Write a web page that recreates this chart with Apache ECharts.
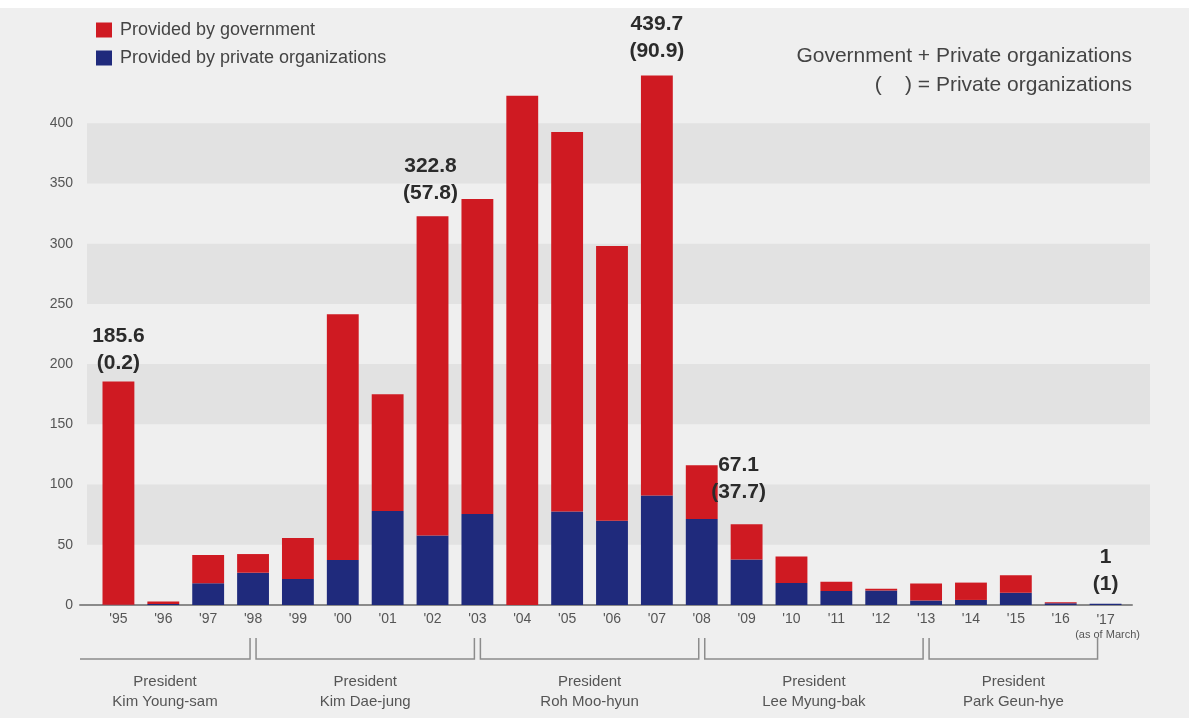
<!DOCTYPE html>
<html><head><meta charset="utf-8">
<script src="https://cdn.jsdelivr.net/npm/echarts@6/dist/echarts.min.js"></script>
<style>html,body{margin:0;padding:0;background:#fff}#c{width:1189px;height:718px;}</style>
</head><body><div id="c"></div>
<script>
// ---- data ----
const years = ["'95","'96","'97","'98","'99","'00","'01","'02","'03","'04","'05","'06","'07","'08","'09","'10","'11","'12","'13","'14","'15","'16","'17"];
const government = [185.4, 2.2, 23.5, 15.5, 34.0, 204.2, 97.0, 265.0, 261.5, 422.8, 315.2, 228.0, 348.8, 44.5, 29.4, 22.0, 7.6, 1.4, 14.1, 14.4, 14.6, 0.8, 0];
const privateOrg = [0.2, 0.8, 18.0, 26.8, 21.6, 37.3, 78.0, 57.8, 75.5, 0, 77.6, 70.0, 90.9, 71.5, 37.7, 18.3, 11.6, 12.1, 3.7, 4.2, 10.2, 1.5, 1];
const calloutIndex = [0, 7, 12, 14, 22];
const calloutTotal = ['185.6', '322.8', '439.7', '67.1', '1'];
const calloutPrivate = ['(0.2)', '(57.8)', '(90.9)', '(37.7)', '(1)'];
const presidentTitles = ['President', 'President', 'President', 'President', 'President'];
const presidentNames = ['Kim Young-sam', 'Kim Dae-jung', 'Roh Moo-hyun', 'Lee Myung-bak', 'Park Geun-hye'];
const termStart = [0, 3, 8, 13, 18];
const termEnd = [3, 8, 13, 18, 22];
const yTicks = [0, 50, 100, 150, 200, 250, 300, 350, 400];

// ---- styles ----
const RED = '#cf1a22', NAVY = '#1f2a7c';
const FONT = 'Liberation Sans, Arial, sans-serif';
const calloutCfg = {
  0: {distance: 5, offset: [0, 0]},
  7: {distance: 10, offset: [-2, 0]},
  12: {distance: 11, offset: [0, 0]},
  14: {distance: 18, offset: [-8, 0]},
  22: {distance: 6, offset: [0, 0]}
};

const govData = government.map((v, i) => {
  const k = calloutIndex.indexOf(i);
  if (k < 0) return v;
  const c = calloutCfg[i];
  return {
    value: v,
    label: {
      show: true, position: 'top', distance: c.distance, offset: c.offset,
      formatter: '{a|' + calloutTotal[k] + '}\n{a|' + calloutPrivate[k] + '}',
      rich: {a: {fontFamily: FONT, fontWeight: 'bold', fontSize: 21, lineHeight: 27, color: '#2b2b2b', align: 'center'}}
    }
  };
});

const terms = termStart.map((s, i) => [s, termEnd[i], 0]);

const chart = echarts.init(document.getElementById('c'), null, {renderer: 'canvas'});
chart.setOption({
  backgroundColor: {type: 'linear', x: 0, y: 0, x2: 0, y2: 1, colorStops: [
    {offset: 0, color: '#ffffff'}, {offset: 0.011, color: '#ffffff'},
    {offset: 0.011, color: '#efefef'}, {offset: 1, color: '#efefef'}]},
  animation: false,
  textStyle: {fontFamily: FONT},
  legend: {
    data: ['Provided by government', 'Provided by private organizations'],
    orient: 'vertical', left: 91, top: 16, itemWidth: 16, itemHeight: 15, itemGap: 10,
    icon: 'rect',
    textStyle: {fontSize: 18, color: '#444', fontFamily: FONT, padding: [0, 0, 0, 3]}
  },
  graphic: [
    {type: 'text', right: 57, top: 46, style: {text: 'Government + Private organizations', font: '21px ' + FONT, fill: '#444'}},
    {type: 'text', right: 57, top: 75, style: {text: '(    ) = Private organizations', font: '21px ' + FONT, fill: '#444'}}
  ],
  grid: [
    {left: 96, right: 61, top: 63, bottom: 113},
    {left: 87, right: 39, top: 63, bottom: 113},
    {left: 80, right: 57, top: 63, bottom: 113}
  ],
  xAxis: [
    {type: 'category', gridIndex: 0, data: years, axisLine: {show: false}, axisTick: {show: false},
      axisLabel: {interval: 0, margin: 7, color: '#555', fontSize: 14, fontFamily: FONT,
        formatter: (v, i) => i === years.length - 1 ? '{y|' + v + '}\n{n|(as of March)}' : v,
        rich: {y: {fontSize: 14, color: '#555', lineHeight: 16, fontFamily: FONT},
               n: {fontSize: 11, color: '#555', lineHeight: 14, fontFamily: FONT, padding: [0, 0, 0, 4]}}}},
    {type: 'value', gridIndex: 1, min: 0, max: 1, show: false},
    {type: 'value', gridIndex: 2, min: 0, max: 1, axisLine: {show: true, onZero: false, lineStyle: {color: '#8a8a8a', width: 2}},
      axisTick: {show: false}, axisLabel: {show: false}, splitLine: {show: false}}
  ],
  yAxis: [
    {type: 'value', gridIndex: 0, min: 0, max: 450, interval: 50, axisLabel: {show: false}, axisLine: {show: false}, axisTick: {show: false}, splitLine: {show: false}},
    {type: 'value', gridIndex: 1, min: 0, max: 450, interval: 50,
      axisLine: {show: false}, axisTick: {show: false}, splitLine: {show: false},
      splitArea: {show: true, areaStyle: {color: ['rgba(0,0,0,0)', '#e2e2e2']}},
      axisLabel: {margin: 14, color: '#555', fontSize: 14, fontFamily: FONT,
        formatter: v => yTicks.indexOf(v) >= 0 ? String(v) : ''}},
    {type: 'value', gridIndex: 2, min: 0, max: 450, show: false}
  ],
  series: [
    {name: 'Provided by private organizations', type: 'bar', stack: 'total', xAxisIndex: 0, yAxisIndex: 0,
      data: privateOrg, barWidth: '71%', itemStyle: {color: NAVY}, z: 3},
    {name: 'Provided by government', type: 'bar', stack: 'total', xAxisIndex: 0, yAxisIndex: 0,
      data: govData, barWidth: '71%', itemStyle: {color: RED}, z: 3},
    {type: 'custom', xAxisIndex: 0, yAxisIndex: 0, clip: false, silent: true,
      encode: {x: [0, 1], y: 2}, data: terms,
      renderItem: function (params, api) {
        const i = params.dataIndex;
        const s = api.value(0), e = api.value(1);
        const ps = api.coord([s, 0]), pe = api.coord([e, 0]);
        const y0 = ps[1];
        let x1 = ps[0] + 3, x2 = pe[0] - 3;
        if (i === 0) x1 = params.coordSys.x - 16;
        if (i === terms.length - 1) x2 = pe[0] - 8;
        const yH = y0 + 54, yT = y0 + 33;
        const pts = [];
        if (i !== 0) pts.push([x1, yT]);
        pts.push([x1, yH], [x2, yH], [x2, yT]);
        const cx = (x1 + x2) / 2;
        return {type: 'group', children: [
          {type: 'polyline', shape: {points: pts}, style: {stroke: '#8c8c8c', lineWidth: 1.5, fill: null}},
          {type: 'text', x: cx, y: yH + 23, style: {text: presidentTitles[i], align: 'center', verticalAlign: 'middle', fill: '#555', font: '15px ' + FONT}},
          {type: 'text', x: cx, y: yH + 43, style: {text: presidentNames[i], align: 'center', verticalAlign: 'middle', fill: '#555', font: '15px ' + FONT}}
        ]};
      }}
  ]
});
</script>
</body></html>
